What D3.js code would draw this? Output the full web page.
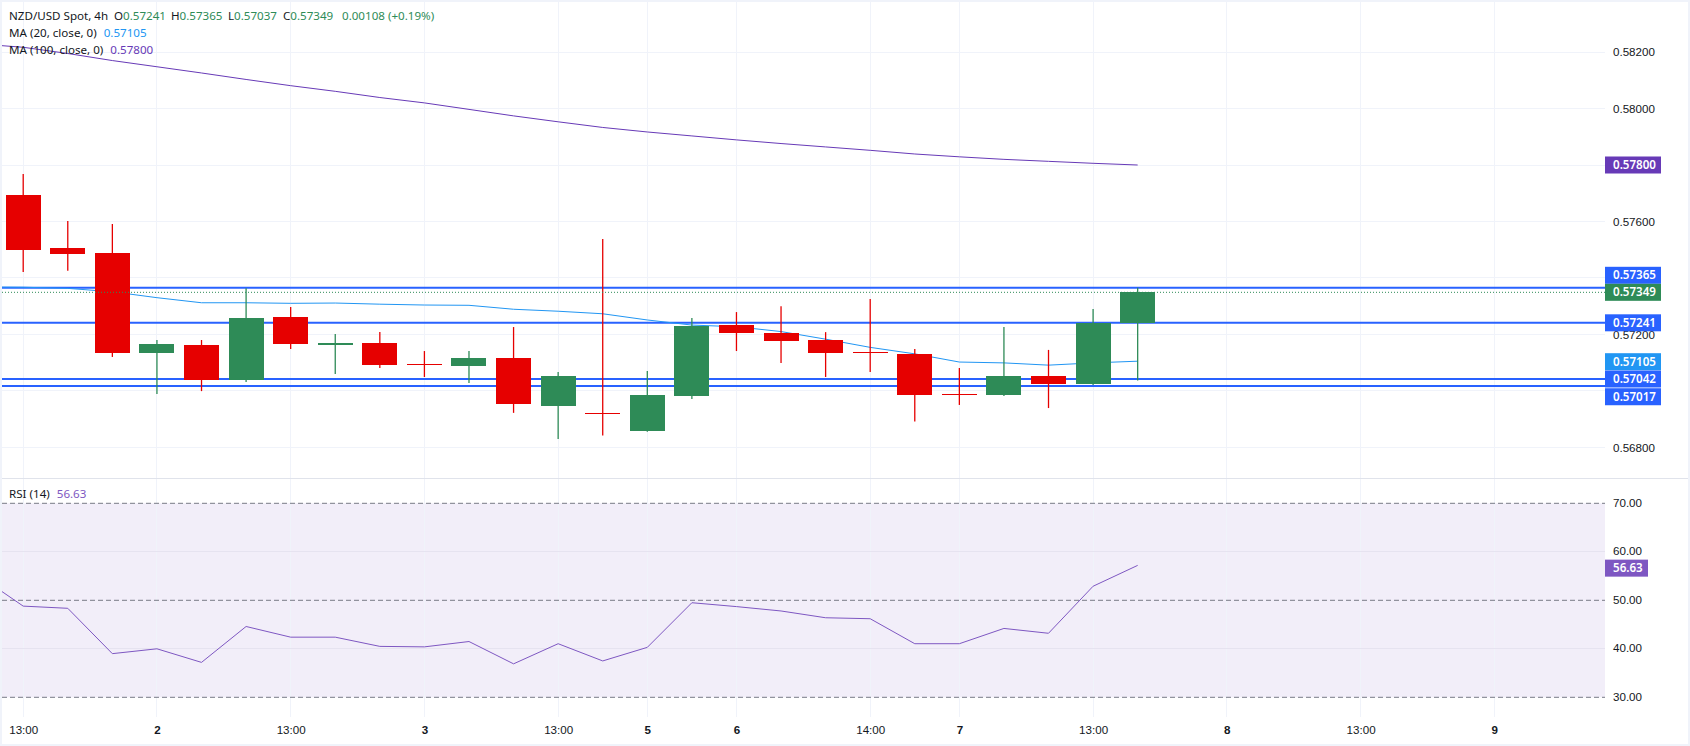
<!DOCTYPE html>
<html>
<head>
<meta charset="utf-8">
<title>NZD/USD Spot, 4h</title>
<script src="https://cdn.jsdelivr.net/npm/d3@7"></script>
<style>
    html, body { margin: 0; padding: 0; background: #f0f3fa; overflow: hidden; }
    svg { display: block; font-family: "Noto Sans", sans-serif; }
    text { font-size: 11.6px; fill: #131722; }
</style>
</head>
<body>
<svg id="chart"></svg>
<script>
// one entry per 4h bar
const opens = [0.57694, 0.57506, 0.57488, 0.57134, 0.57162, 0.57038, 0.57262, 0.57162, 0.57170, 0.57095, 0.57088, 0.57116, 0.56946, 0.56920, 0.56858, 0.56982, 0.57233, 0.57205, 0.57180, 0.57137, 0.57131, 0.56988, 0.56985, 0.57053, 0.57024, 0.57241];
const highs = [0.57768, 0.57602, 0.57591, 0.57180, 0.57180, 0.57363, 0.57297, 0.57201, 0.57208, 0.57141, 0.57141, 0.57226, 0.57067, 0.57538, 0.57070, 0.57258, 0.57279, 0.57300, 0.57208, 0.57325, 0.57148, 0.57081, 0.57226, 0.57145, 0.57290, 0.57365];
const lows = [0.57421, 0.57425, 0.57120, 0.56989, 0.56999, 0.57031, 0.57148, 0.57060, 0.57081, 0.57049, 0.57028, 0.56922, 0.56829, 0.56842, 0.56855, 0.56971, 0.57141, 0.57099, 0.57049, 0.57067, 0.56891, 0.56950, 0.56982, 0.56939, 0.57021, 0.57037];
const closes = [0.57499, 0.57485, 0.57134, 0.57166, 0.57038, 0.57258, 0.57166, 0.57169, 0.57092, 0.57095, 0.57116, 0.56953, 0.57053, 0.56920, 0.56985, 0.57230, 0.57205, 0.57177, 0.57134, 0.57137, 0.56985, 0.56988, 0.57053, 0.57024, 0.57241, 0.57349];

// these three start one bar before the first candle
const ma20 = [0.57368, 0.57367, 0.57363, 0.57351, 0.57330, 0.57312, 0.57312, 0.57310, 0.57311, 0.57307, 0.57304, 0.57303, 0.57289, 0.57282, 0.57273, 0.57251, 0.57233, 0.57227, 0.57210, 0.57183, 0.57154, 0.57131, 0.57102, 0.57099, 0.57091, 0.57099, 0.57105];
const ma100 = [0.58229, 0.58217, 0.58195, 0.58170, 0.58148, 0.58126, 0.58103, 0.58081, 0.58061, 0.58039, 0.58020, 0.57997, 0.57974, 0.57953, 0.57933, 0.57917, 0.57903, 0.57889, 0.57876, 0.57864, 0.57852, 0.57839, 0.57829, 0.57820, 0.57813, 0.57806, 0.57800];
const rsi = [55.1, 48.8, 48.35, 39.0, 40.0, 37.2, 44.6, 42.4, 42.4, 40.5, 40.4, 41.5, 36.9, 41.05, 37.5, 40.3, 49.5, 48.7, 47.8, 46.4, 46.2, 41.05, 41.05, 44.2, 43.2, 52.9, 57.2];

const levels = [0.57365, 0.57241, 0.57042, 0.57017];
const lastClose = 0.57349;

const priceTicks = [0.568, 0.570, 0.572, 0.574, 0.576, 0.578, 0.580, 0.582];
// the other ticks sit behind price tags in the picture, only their gridlines show
const priceLabelTicks = [0.568, 0.572, 0.576, 0.580, 0.582];
const rsiTicks = [30, 40, 50, 60, 70];
const rsiBands = [30, 50, 70];

const timeTickBars = [0, 3, 6, 9, 12, 14, 16, 19, 21, 24, 27, 30, 33];
const timeTickLabels = ["13:00", "2", "13:00", "3", "13:00", "5", "6", "14:00", "7", "13:00", "8", "13:00", "9"];

const legendOhlc = [["O", "0.57241"], ["H", "0.57365"], ["L", "0.57037"], ["C", "0.57349"]];

const RED = "#e60000", GREEN = "#2e8b57", BLUE = "#2962ff", MA20_COL = "#2196f3", MA100_COL = "#673ab7", RSI_COL = "#7e57c2";
const GRID = "#f0f3fa", RSI_GRID = "#e6e3f0", DASH = "#787b86";

const left = 2, right = 1605, outer = 1688, top_ = 2, bottom = 744;
const paneSplit = 478, axisBottom = 717;

let svg = d3.select("#chart").attr("width", 1690).attr("height", 746);
svg.append("rect").attr("x", left).attr("y", top_).attr("width", outer - left).attr("height", bottom - top_).attr("fill", "#fff");

svg.append("clipPath").attr("id", "plot")
    .append("rect").attr("x", left).attr("y", top_).attr("width", right - left).attr("height", paneSplit - top_);
svg.append("clipPath").attr("id", "rsi-plot")
    .append("rect").attr("x", left).attr("y", paneSplit).attr("width", right - left).attr("height", axisBottom - paneSplit);

let x = d3.scaleLinear().domain([0, 33]).range([23.2, 1494.3]);
let y = d3.scaleLinear().domain([0.568, 0.578]).range([447.3, 165]);
let yRsi = d3.scaleLinear().domain([30, 70]).range([697.3, 503.3]);

// rsi band goes under the grid
svg.append("rect")
    .attr("x", left).attr("width", right - left)
    .attr("y", yRsi(70)).attr("height", yRsi(30) - yRsi(70))
    .attr("fill", RSI_COL).attr("fill-opacity", 0.1);

// grid
let grid = svg.append("g").attr("shape-rendering", "crispEdges");
grid.selectAll(".v").data(timeTickBars).join("line")
    .attr("x1", d => x(d)).attr("x2", d => x(d))
    .attr("y1", top_).attr("y2", axisBottom)
    .attr("stroke", GRID);
grid.selectAll(".h").data(priceTicks).join("line")
    .attr("x1", left).attr("x2", right)
    .attr("y1", d => y(d)).attr("y2", d => y(d))
    .attr("stroke", GRID);
grid.selectAll(".r").data(rsiTicks.filter(d => !rsiBands.includes(d))).join("line")
    .attr("x1", left).attr("x2", right)
    .attr("y1", d => yRsi(d)).attr("y2", d => yRsi(d))
    .attr("stroke", RSI_GRID);
grid.append("line")
    .attr("x1", left).attr("x2", outer)
    .attr("y1", paneSplit).attr("y2", paneSplit)
    .attr("stroke", "#e0e3eb");

let g = svg.append("g").attr("clip-path", "url(#plot)");

// drawn levels and moving averages stay behind the candles
g.selectAll(".level").data(levels).join("line")
    .attr("x1", left).attr("x2", right)
    .attr("y1", d => y(d)).attr("y2", d => y(d))
    .attr("stroke", BLUE).attr("stroke-width", 2);

let avgLine = d3.line().x((d, i) => x(i - 1)).y(d => y(d));
g.append("path").datum(ma20)
    .attr("fill", "none").attr("stroke", MA20_COL).attr("stroke-width", 1).attr("d", avgLine);
g.append("path").datum(ma100)
    .attr("fill", "none").attr("stroke", MA100_COL).attr("stroke-width", 1).attr("d", avgLine);

// candles
let barColor = i => closes[i] > opens[i] ? GREEN : RED;

g.selectAll(".wick").data(opens).join("line")
    .attr("x1", (d, i) => x(i)).attr("x2", (d, i) => x(i))
    .attr("y1", (d, i) => y(highs[i])).attr("y2", (d, i) => y(lows[i]))
    .attr("stroke", (d, i) => barColor(i))
    .attr("stroke-width", 1.3);

g.selectAll(".body").data(opens).join("rect")
    .attr("x", (d, i) => x(i) - 17.5)
    .attr("width", 35)
    .attr("y", (d, i) => y(Math.max(opens[i], closes[i])))
    .attr("height", (d, i) => Math.max(1, Math.abs(y(opens[i]) - y(closes[i]))))
    .attr("fill", (d, i) => barColor(i))
    .attr("shape-rendering", "crispEdges");

// last close runs over everything
g.append("line")
    .attr("x1", left).attr("x2", right)
    .attr("y1", y(lastClose)).attr("y2", y(lastClose))
    .attr("stroke", GREEN).attr("stroke-width", 1).attr("stroke-dasharray", "1 2");

// rsi pane
let r = svg.append("g").attr("clip-path", "url(#rsi-plot)");
r.selectAll(".band").data(rsiBands).join("line")
    .attr("x1", left).attr("x2", right)
    .attr("y1", d => yRsi(d)).attr("y2", d => yRsi(d))
    .attr("stroke", DASH).attr("stroke-dasharray", "5 3");
r.append("path").datum(rsi)
    .attr("fill", "none").attr("stroke", RSI_COL).attr("stroke-width", 1)
    .attr("d", d3.line().x((d, i) => x(i - 1)).y(d => yRsi(d)));

// axes
let priceAxis = svg.append("g")
    .attr("transform", "translate(" + right + ",0)")
    .call(d3.axisRight(y).tickValues(priceLabelTicks).tickFormat(d3.format(".5f")).tickSize(0).tickPadding(8));
priceAxis.select(".domain").remove();

let rsiAxis = svg.append("g")
    .attr("transform", "translate(" + right + ",-1)")
    .call(d3.axisRight(yRsi).tickValues(rsiTicks).tickFormat(d3.format(".2f")).tickSize(0).tickPadding(8));
rsiAxis.select(".domain").remove();

let timeAxis = svg.append("g")
    .attr("transform", "translate(0," + (axisBottom + 4) + ")")
    .call(d3.axisBottom(x).tickValues(timeTickBars).tickFormat((d, i) => timeTickLabels[i]).tickSize(0).tickPadding(5));
timeAxis.select(".domain").remove();
timeAxis.selectAll("text").attr("font-weight", (d, i) => timeTickLabels[i].includes(":") ? 400 : 700);
svg.selectAll(".tick text").style("font-size", "11.6px").style("font-family", "inherit").style("fill", "#131722");

// price tags, a few are pushed off their level so they don't overlap
const tags = [
    { scale: y, value: levels[0], text: "0.57365", color: BLUE, shift: -12.5 },
    { scale: y, value: lastClose, text: "0.57349", color: GREEN, shift: 0 },
    { scale: y, value: levels[1], text: "0.57241", color: BLUE, shift: 0 },
    { scale: y, value: 0.57105, text: "0.57105", color: MA20_COL, shift: 0.5 },
    { scale: y, value: levels[2], text: "0.57042", color: BLUE, shift: 0 },
    { scale: y, value: levels[3], text: "0.57017", color: BLUE, shift: 10.7 },
    { scale: y, value: 0.578, text: "0.57800", color: MA100_COL, shift: 0 },
    { scale: yRsi, value: 56.63, text: "56.63", color: RSI_COL, shift: 0 }
];
let tag = svg.selectAll(".tag").data(tags).join("g")
    .attr("transform", d => "translate(" + right + "," + (d.scale(d.value) + d.shift) + ")");
tag.append("rect")
    .attr("y", -8.5).attr("height", 17)
    .attr("width", d => d.text.length > 5 ? 56 : 43)
    .attr("fill", d => d.color);
tag.append("text")
    .attr("x", 8).attr("dy", "0.35em")
    .style("fill", "#fff").style("font-weight", 600)
    .text(d => d.text);

// legend
const ohlcX = [114, 171, 228, 283];
let legend = svg.append("g");
let row1 = legend.append("text").attr("x", 9).attr("y", 19.5);
row1.append("tspan").text("NZD/USD Spot, 4h");
legendOhlc.forEach(([k, v], i) => {
    row1.append("tspan").attr("x", ohlcX[i]).text(k);
    row1.append("tspan").style("fill", GREEN).text(v);
});
row1.append("tspan").attr("x", 342).style("fill", GREEN).text("0.00108 (+0.19%)");

let row2 = legend.append("text").attr("x", 9).attr("y", 36.5);
row2.append("tspan").text("MA (20, close, 0)");
row2.append("tspan").attr("dx", 7).style("fill", MA20_COL).text("0.57105");

let row3 = legend.append("text").attr("x", 9).attr("y", 53.5);
row3.append("tspan").text("MA (100, close, 0)");
row3.append("tspan").attr("dx", 7).style("fill", MA100_COL).text("0.57800");

let row4 = legend.append("text").attr("x", 9).attr("y", 497.5);
row4.append("tspan").text("RSI (14)");
row4.append("tspan").attr("dx", 7).style("fill", RSI_COL).text("56.63");
</script>
</body>
</html>
